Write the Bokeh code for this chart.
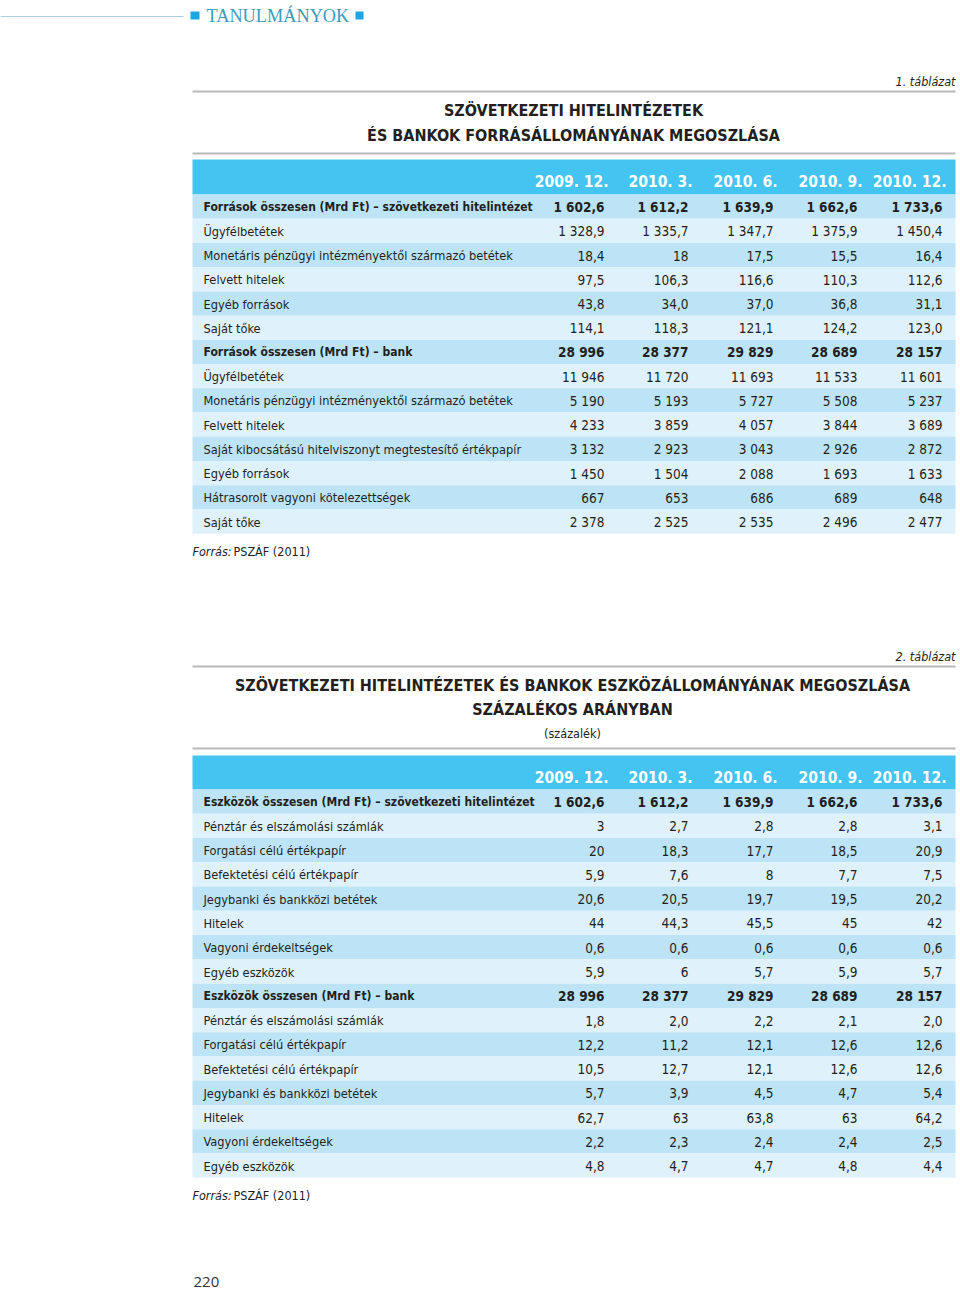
from bokeh.plotting import figure
from bokeh.models import Range1d, ColumnDataSource
from bokeh.core.properties import value
from bokeh.embed import file_html
from bokeh.resources import INLINE

# ---------------- data ----------------
periods = ["2009. 12.", "2010. 3.", "2010. 6.", "2010. 9.", "2010. 12."]

t1_labels = [
    "Források összesen (Mrd Ft) – szövetkezeti hitelintézet",
    "Ügyfélbetétek",
    "Monetáris pénzügyi intézményektől származó betétek",
    "Felvett hitelek",
    "Egyéb források",
    "Saját tőke",
    "Források összesen (Mrd Ft) – bank",
    "Ügyfélbetétek",
    "Monetáris pénzügyi intézményektől származó betétek",
    "Felvett hitelek",
    "Saját kibocsátású hitelviszonyt megtestesítő értékpapír",
    "Egyéb források",
    "Hátrasorolt vagyoni kötelezettségek",
    "Saját tőke",
]
t1_bold = [0, 6]
t1_2009_12 = ["1 602,6", "1 328,9", "18,4", "97,5", "43,8", "114,1", "28 996", "11 946", "5 190", "4 233", "3 132", "1 450", "667", "2 378"]
t1_2010_03 = ["1 612,2", "1 335,7", "18", "106,3", "34,0", "118,3", "28 377", "11 720", "5 193", "3 859", "2 923", "1 504", "653", "2 525"]
t1_2010_06 = ["1 639,9", "1 347,7", "17,5", "116,6", "37,0", "121,1", "29 829", "11 693", "5 727", "4 057", "3 043", "2 088", "686", "2 535"]
t1_2010_09 = ["1 662,6", "1 375,9", "15,5", "110,3", "36,8", "124,2", "28 689", "11 533", "5 508", "3 844", "2 926", "1 693", "689", "2 496"]
t1_2010_12 = ["1 733,6", "1 450,4", "16,4", "112,6", "31,1", "123,0", "28 157", "11 601", "5 237", "3 689", "2 872", "1 633", "648", "2 477"]

t2_labels = [
    "Eszközök összesen (Mrd Ft) – szövetkezeti hitelintézet",
    "Pénztár és elszámolási számlák",
    "Forgatási célú értékpapír",
    "Befektetési célú értékpapír",
    "Jegybanki és bankközi betétek",
    "Hitelek",
    "Vagyoni érdekeltségek",
    "Egyéb eszközök",
    "Eszközök összesen (Mrd Ft) – bank",
    "Pénztár és elszámolási számlák",
    "Forgatási célú értékpapír",
    "Befektetési célú értékpapír",
    "Jegybanki és bankközi betétek",
    "Hitelek",
    "Vagyoni érdekeltségek",
    "Egyéb eszközök",
]
t2_bold = [0, 8]
t2_2009_12 = ["1 602,6", "3", "20", "5,9", "20,6", "44", "0,6", "5,9", "28 996", "1,8", "12,2", "10,5", "5,7", "62,7", "2,2", "4,8"]
t2_2010_03 = ["1 612,2", "2,7", "18,3", "7,6", "20,5", "44,3", "0,6", "6", "28 377", "2,0", "11,2", "12,7", "3,9", "63", "2,3", "4,7"]
t2_2010_06 = ["1 639,9", "2,8", "17,7", "8", "19,7", "45,5", "0,6", "5,7", "29 829", "2,2", "12,1", "12,1", "4,5", "63,8", "2,4", "4,7"]
t2_2010_09 = ["1 662,6", "2,8", "18,5", "7,7", "19,5", "45", "0,6", "5,9", "28 689", "2,1", "12,6", "12,6", "4,7", "63", "2,4", "4,8"]
t2_2010_12 = ["1 733,6", "3,1", "20,9", "7,5", "20,2", "42", "0,6", "5,7", "28 157", "2,0", "12,6", "12,6", "5,4", "64,2", "2,5", "4,4"]

# ---------------- style ----------------
FONT = "'Liberation Sans Narrow', 'DejaVu Sans Condensed', 'Arial Narrow', sans-serif"
SERIF = "'Liberation Serif', 'DejaVu Serif', serif"
TXT = "#231f20"
HEAD_BLUE = "#43c4f1"
ROW_DARK = "#bde4f6"
ROW_LIGHT = "#dff1fb"
RULE = "#b9b9b9"

TL, TR = 192, 955          # table left / right
LABEL_X = 203
VAL_X = [604, 688, 773, 857, 942]
HEAD_X = [608, 692, 777, 862, 946]
LABEL_SIZE = "12.7px"
BOLD_LABEL_SIZE = "12px"
VALUE_SIZE = "13.5px"

p = figure(width=960, height=1289, x_range=Range1d(0, 960), y_range=Range1d(1289, 0),
           output_backend="svg", toolbar_location=None, min_border=0,
           x_axis_location=None, y_axis_location=None)
p.grid.visible = False
p.outline_line_color = None
p.background_fill_color = "white"
p.border_fill_color = "white"


def txt(x, y, s, size, align="left", style="normal", color=TXT, font=FONT, baseline="middle"):
    p.text(x=[x], y=[y], text=[s], text_font=value(font), text_font_size=f"{size}px",
           text_font_style=style, text_color=color, text_align=align, text_baseline=baseline)


# ---------------- header strip ----------------
p.segment(x0=[0], y0=[16], x1=[183], y1=[16], line_color="#a9cfe0", line_width=1)
p.quad(left=[190, 355], right=[199, 363], top=[11, 11], bottom=[19, 19],
       fill_color="#1ba7e1", line_color=None)
txt(206, 15.5, "TANULMÁNYOK", 18.3, color="#3b9bbd", font=SERIF)


def draw_table(labels, cols, bold_idx, rule1, rule2, band_top, row_top, row_h, head_y):
    p.segment(x0=[TL, TL], y0=[rule1, rule2], x1=[TR, TR], y1=[rule1, rule2],
              line_color=RULE, line_width=2)
    p.quad(left=[TL], right=[TR], top=[band_top], bottom=[row_top],
           fill_color=HEAD_BLUE, line_color=None)
    for hx, per in zip(HEAD_X, periods):
        txt(hx, head_y, per, 15.5, align="right", style="bold", color="white")
    n = len(labels)
    idx = list(range(n))
    tops = [row_top + i * row_h for i in idx]
    bots = [t + row_h for t in tops]
    mids = [t + row_h / 2 + 0.5 for t in tops]
    fills = [ROW_DARK if i % 2 == 0 else ROW_LIGHT for i in idx]
    p.quad(left=[TL] * n, right=[TR] * n, top=tops, bottom=bots,
           fill_color=fills, line_color=None)
    for bold in (False, True):
        sel = [i for i in idx if (i in bold_idx) == bold]
        style = "bold" if bold else "normal"
        src = ColumnDataSource(dict(x=[LABEL_X] * len(sel), y=[mids[i] for i in sel],
                                    t=[labels[i] for i in sel]))
        p.text(x="x", y="y", text="t", source=src, text_font=value(FONT),
               text_font_size=BOLD_LABEL_SIZE if bold else LABEL_SIZE,
               text_font_style=style, text_color=TXT,
               text_align="left", text_baseline="middle")
        for vx, col in zip(VAL_X, cols):
            src = ColumnDataSource(dict(x=[vx] * len(sel), y=[mids[i] for i in sel],
                                        t=[col[i] for i in sel]))
            p.text(x="x", y="y", text="t", source=src, text_font=value(FONT),
                   text_font_size=VALUE_SIZE, text_font_style=style, text_color=TXT,
                   text_align="right", text_baseline="middle")


# ---------------- table 1 ----------------
txt(955, 81, "1. táblázat", 12.5, align="right", style="italic")
txt(573, 110, "SZÖVETKEZETI HITELINTÉZETEK", 16, align="center", style="bold")
txt(573, 135, "ÉS BANKOK FORRÁSÁLLOMÁNYÁNAK MEGOSZLÁSA", 16, align="center", style="bold")
draw_table(t1_labels, [t1_2009_12, t1_2010_03, t1_2010_06, t1_2010_09, t1_2010_12], t1_bold,
           91, 153, 159, 194, 24.23, 181)
txt(192, 551, "Forrás:", 12.5, style="italic")
txt(233, 551, "PSZÁF (2011)", 12.5)

# ---------------- table 2 ----------------
txt(955, 656, "2. táblázat", 12.5, align="right", style="italic")
txt(572, 685, "SZÖVETKEZETI HITELINTÉZETEK ÉS BANKOK ESZKÖZÁLLOMÁNYÁNAK MEGOSZLÁSA", 16,
    align="center", style="bold")
txt(572, 709, "SZÁZALÉKOS ARÁNYBAN", 16, align="center", style="bold")
txt(572, 733, "(százalék)", 12.5, align="center")
draw_table(t2_labels, [t2_2009_12, t2_2010_03, t2_2010_06, t2_2010_09, t2_2010_12], t2_bold,
           666, 748, 755, 789, 24.27, 777)
txt(192, 1195, "Forrás:", 12.5, style="italic")
txt(233, 1195, "PSZÁF (2011)", 12.5)

# ---------------- page number ----------------
txt(193, 1281, "220", 15, font="'Open Sans', sans-serif", color="#333333")

open("out.html", "w").write(file_html(p, INLINE))
